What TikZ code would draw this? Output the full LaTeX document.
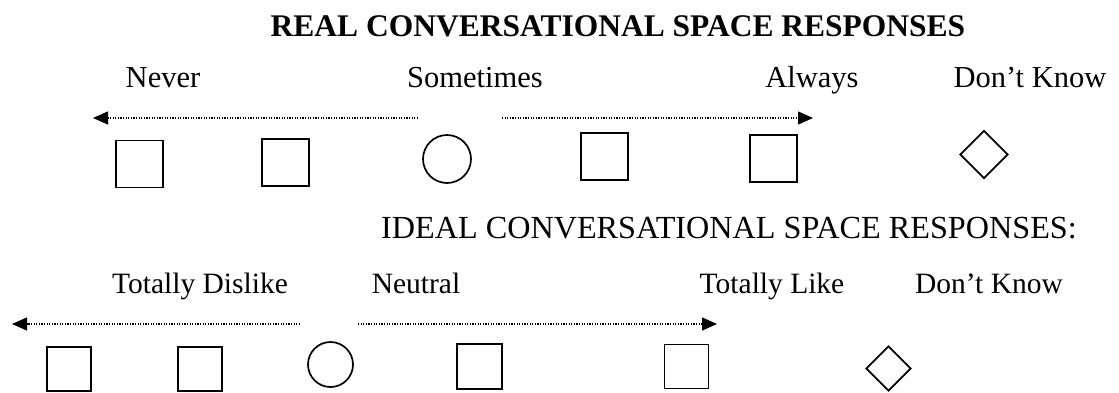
\documentclass[tikz,border=0pt]{standalone}
\usepackage{fontspec}
\setmainfont{Liberation Serif}
\usetikzlibrary{arrows.meta,shapes.geometric}

\begin{document}
\begin{tikzpicture}[
  x=1pt, y=-1pt,
  heading/.style={anchor=base, inner sep=0pt, font=\fontsize{31.5}{38}\selectfont},
  lbl/.style={anchor=base, inner sep=0pt, font=\fontsize{30.5}{36}\selectfont},
  sqbox/.style={draw, line width=1.7pt, minimum size=#1, inner sep=0pt},
  sqbox/.default=47pt,
  rndbox/.style={draw, circle, line width=1.7pt, minimum size=#1, inner sep=0pt},
  rndbox/.default=48pt,
  dkbox/.style={draw, diamond, line width=1.7pt, minimum width=#1, minimum height=#1, inner sep=0pt},
  dkbox/.default=48pt,
  scalearrow/.style={dash pattern=on 1.2pt off 1.4pt, line width=1.2pt,
                     -{Triangle[length=15pt,width=13pt]}}
]
\useasboundingbox (0,0) rectangle (1119,392);

% real responses
\node[heading, font=\fontsize{31.5}{38}\selectfont\bfseries] (realhead) at (618,36) {REAL CONVERSATIONAL SPACE RESPONSES};
\node[lbl] (never) at (163,87) {Never};
\node[lbl] (sometimes) at (475,87) {Sometimes};
\node[lbl] (always) at (812,87) {Always};
\node[lbl] (realdk) at (1030,87) {Don’t Know};

\coordinate (realleftstart) at (418,118);
\coordinate (reallefttip) at (93,118);
\coordinate (realrightstart) at (502,118);
\coordinate (realrighttip) at (813,118);
\draw[scalearrow] (realleftstart) -- (reallefttip);
\draw[scalearrow] (realrightstart) -- (realrighttip);

\node[sqbox] (realA) at (139.5,164) {};
\node[sqbox] (realB) at (285.5,162.5) {};
\node[rndbox] (realC) at (447,159) {};
\node[sqbox] (realD) at (604.5,156.5) {};
\node[sqbox] (realE) at (773.5,158.5) {};
\node[dkbox] (realF) at (984,154.5) {};

% ideal responses
\node[heading, font=\fontsize{32.2}{38}\selectfont] (idealhead) at (729,238) {IDEAL CONVERSATIONAL SPACE RESPONSES:};
\node[lbl, font=\fontsize{29.5}{36}\selectfont] (dislike) at (200,293) {Totally Dislike};
\node[lbl, font=\fontsize{29.5}{36}\selectfont] (neutral) at (416,293) {Neutral};
\node[lbl, font=\fontsize{29.5}{36}\selectfont] (like) at (772,293) {Totally Like};
\node[lbl, font=\fontsize{29.5}{36}\selectfont] (idealdk) at (989,293) {Don’t Know};

\coordinate (idealleftstart) at (300,324);
\coordinate (ideallefttip) at (12,324);
\coordinate (idealrightstart) at (358,324);
\coordinate (idealrighttip) at (717,324);
\draw[scalearrow] (idealleftstart) -- (ideallefttip);
\draw[scalearrow] (idealrightstart) -- (idealrighttip);

\node[sqbox=44pt] (idealA) at (69,369) {};
\node[sqbox=44pt] (idealB) at (200,369) {};
\node[rndbox=45pt] (idealC) at (330.5,364.5) {};
\node[sqbox=45pt] (idealD) at (479.5,366.5) {};
\node[sqbox=44pt] (idealE) at (686.5,366.5) {};
\node[dkbox=45pt] (idealF) at (888.5,368.5) {};
\end{tikzpicture}
\end{document}
